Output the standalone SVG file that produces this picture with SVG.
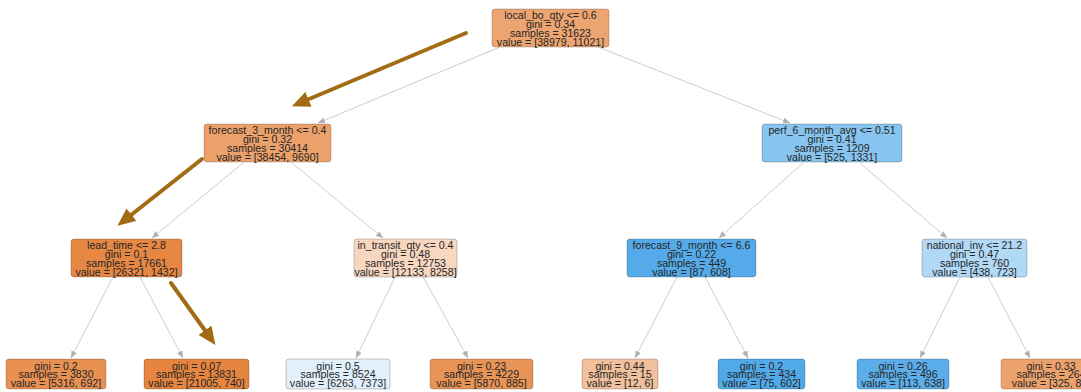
<svg xmlns="http://www.w3.org/2000/svg" width="1081" height="392" viewBox="0 0 1081 392">
<style>
.n text{font-family:"Liberation Sans",Arial,sans-serif;font-size:10.6px;fill:#262626;text-anchor:middle}
.n rect{stroke-width:0.6;stroke-opacity:0.35;stroke:#000}
.e line{stroke:#b8b8b8;stroke-width:0.7;fill:none}
.b line{stroke:#a26c14;stroke-width:4;stroke-linecap:round}
</style>
<defs>
<marker id="ah" markerUnits="userSpaceOnUse" markerWidth="7" markerHeight="6" refX="7" refY="3" orient="auto"><path d="M0,0 L7,3 L0,6 z" fill="#b0b0b0"/></marker>
<marker id="bh" markerUnits="userSpaceOnUse" markerWidth="18" markerHeight="16" refX="7" refY="8" orient="auto"><path d="M0,0 L18,8 L0,16 z" fill="#a26c14"/></marker>
</defs>
<rect width="1081" height="392" fill="#fff"/>
<g class="e" id="connectors">
<line x1="500" y1="47" x2="318" y2="123" marker-end="url(#ah)"/>
<line x1="598" y1="47" x2="790" y2="123" marker-end="url(#ah)"/>
<line x1="243" y1="163" x2="152" y2="238" marker-end="url(#ah)"/>
<line x1="292" y1="163" x2="383" y2="238" marker-end="url(#ah)"/>
<line x1="113" y1="277" x2="71" y2="358" marker-end="url(#ah)"/>
<line x1="140" y1="277" x2="183" y2="358" marker-end="url(#ah)"/>
<line x1="395" y1="277" x2="356" y2="358" marker-end="url(#ah)"/>
<line x1="423" y1="277" x2="468" y2="358" marker-end="url(#ah)"/>
<line x1="803" y1="163" x2="719" y2="238" marker-end="url(#ah)"/>
<line x1="860" y1="163" x2="947" y2="238" marker-end="url(#ah)"/>
<line x1="677" y1="277" x2="635" y2="358" marker-end="url(#ah)"/>
<line x1="705" y1="277" x2="748" y2="358" marker-end="url(#ah)"/>
<line x1="960" y1="277" x2="920" y2="358" marker-end="url(#ah)"/>
<line x1="988" y1="277" x2="1030" y2="358" marker-end="url(#ah)"/>
</g>
<g class="n" id="root"><rect x="492" y="9" width="117" height="38" rx="3" fill="#eca571"/>
<text x="550.5" y="18.5">local_bo_qty &lt;= 0.6</text><text x="550.5" y="27.5">gini = 0.34</text><text x="550.5" y="36.5">samples = 31623</text><text x="550.5" y="45.5">value = [38979, 11021]</text></g>
<g class="n" id="forecast3"><rect x="204" y="124" width="127" height="38" rx="3" fill="#eca16b"/>
<text x="267.5" y="133.5">forecast_3_month &lt;= 0.4</text><text x="267.5" y="142.5">gini = 0.32</text><text x="267.5" y="151.5">samples = 30414</text><text x="267.5" y="160.5">value = [38454, 9690]</text></g>
<g class="n" id="perf6"><rect x="762" y="124" width="140" height="38" rx="3" fill="#87c4ef"/>
<text x="832" y="133.5">perf_6_month_avg &lt;= 0.51</text><text x="832" y="142.5">gini = 0.41</text><text x="832" y="151.5">samples = 1209</text><text x="832" y="160.5">value = [525, 1331]</text></g>
<g class="n" id="leadtime"><rect x="71" y="239" width="111" height="38" rx="3" fill="#e68844"/>
<text x="126.5" y="248.5">lead_time &lt;= 2.8</text><text x="126.5" y="257.5">gini = 0.1</text><text x="126.5" y="266.5">samples = 17661</text><text x="126.5" y="275.5">value = [26321, 1432]</text></g>
<g class="n" id="intransit"><rect x="354" y="239" width="103" height="38" rx="3" fill="#f7d7c0"/>
<text x="405.5" y="248.5">in_transit_qty &lt;= 0.4</text><text x="405.5" y="257.5">gini = 0.48</text><text x="405.5" y="266.5">samples = 12753</text><text x="405.5" y="275.5">value = [12133, 8258]</text></g>
<g class="n" id="forecast9"><rect x="627" y="239" width="129" height="38" rx="3" fill="#55abe9"/>
<text x="691.5" y="248.5">forecast_9_month &lt;= 6.6</text><text x="691.5" y="257.5">gini = 0.22</text><text x="691.5" y="266.5">samples = 449</text><text x="691.5" y="275.5">value = [87, 608]</text></g>
<g class="n" id="nationalinv"><rect x="922" y="239" width="105" height="38" rx="3" fill="#b1d8f5"/>
<text x="974.5" y="248.5">national_inv &lt;= 21.2</text><text x="974.5" y="257.5">gini = 0.47</text><text x="974.5" y="266.5">samples = 760</text><text x="974.5" y="275.5">value = [438, 723]</text></g>
<g class="n" id="leaf1"><rect x="6" y="359" width="100" height="30" rx="3" fill="#e89153"/>
<text x="56" y="369.5">gini = 0.2</text><text x="56" y="378">samples = 3830</text><text x="56" y="386.5">value = [5316, 692]</text></g>
<g class="n" id="leaf2"><rect x="144" y="359" width="105" height="30" rx="3" fill="#e68540"/>
<text x="196.5" y="369.5">gini = 0.07</text><text x="196.5" y="378">samples = 13831</text><text x="196.5" y="386.5">value = [21005, 740]</text></g>
<g class="n" id="leaf3"><rect x="286" y="359" width="104" height="30" rx="3" fill="#e1f0fb"/>
<text x="338" y="369.5">gini = 0.5</text><text x="338" y="378">samples = 8524</text><text x="338" y="386.5">value = [6263, 7373]</text></g>
<g class="n" id="leaf4"><rect x="430" y="359" width="103" height="30" rx="3" fill="#e99457"/>
<text x="481.5" y="369.5">gini = 0.23</text><text x="481.5" y="378">samples = 4229</text><text x="481.5" y="386.5">value = [5870, 885]</text></g>
<g class="n" id="leaf5"><rect x="582" y="359" width="76" height="30" rx="3" fill="#f2c09c"/>
<text x="620" y="369.5">gini = 0.44</text><text x="620" y="378">samples = 15</text><text x="620" y="386.5">value = [12, 6]</text></g>
<g class="n" id="leaf6"><rect x="718" y="359" width="87" height="30" rx="3" fill="#52a9e8"/>
<text x="761.5" y="369.5">gini = 0.2</text><text x="761.5" y="378">samples = 434</text><text x="761.5" y="386.5">value = [75, 602]</text></g>
<g class="n" id="leaf7"><rect x="857" y="359" width="92" height="30" rx="3" fill="#5caeea"/>
<text x="903" y="369.5">gini = 0.26</text><text x="903" y="378">samples = 496</text><text x="903" y="386.5">value = [113, 638]</text></g>
<g class="n" id="leaf8"><rect x="1001" y="359" width="100" height="30" rx="3" fill="#eca26d"/>
<text x="1051" y="369.5">gini = 0.33</text><text x="1051" y="378">samples = 264</text><text x="1051" y="386.5">value = [325, 85]</text></g>
<g class="b" id="highlight-arrows">
<line x1="466" y1="33" x2="302" y2="102" marker-end="url(#bh)"/>
<line x1="202" y1="159" x2="126" y2="219" marker-end="url(#bh)"/>
<line x1="171" y1="283" x2="209" y2="336" marker-end="url(#bh)"/>
</g>
</svg>
